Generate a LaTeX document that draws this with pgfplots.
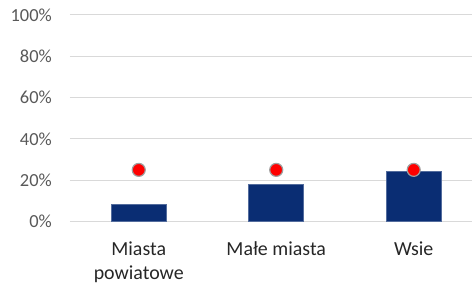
\documentclass[border=0pt]{standalone}
\usepackage{fontspec}
\setmainfont{Carlito}
\usepackage{pgfplots}
\pgfplotsset{compat=1.18}
\usetikzlibrary{calc}
\definecolor{barblue}{HTML}{0A2D73}
\definecolor{gridgray}{HTML}{D9D9D9}
\definecolor{labgray}{HTML}{595959}
\begin{document}
\begin{tikzpicture}
\begin{axis}[
  scale only axis, width=402bp, height=206.5bp,
  xmin=-0.5, xmax=2.424, ymin=0, ymax=100,
  axis x line*=bottom, axis y line*=left,
  x axis line style={gridgray, line width=1bp, -},
  y axis line style={draw=none},
  xtick={0,1,2},
  xticklabels={{Miasta\\powiatowe},{Małe miasta},{Wsie}},
  x tick style={draw=none},
  extra x ticks={-0.5,0.5,1.5},
  extra x tick labels={},
  extra x tick style={major tick length=7bp, tick align=outside, tick style={draw=gridgray, line width=1bp}, grid=none},
  ytick={0,20,40,60,80,100},
  yticklabels={0\%,20\%,40\%,60\%,80\%,100\%},
  y tick style={draw=none},
  ymajorgrids, grid style={gridgray, line width=1bp},
  yticklabel style={font=\fontsize{18.5}{22}\selectfont, color=labgray, inner sep=0pt, anchor=east, xshift=-18bp},
  xticklabel style={font=\fontsize{20}{24}\selectfont, color=black!85, align=center, anchor=north, inner sep=0pt, yshift=-20bp},
  clip=false,
]
\addplot[ybar, bar width=0.4, fill=barblue, draw=barblue!70!white, line width=0.6bp] coordinates {(0,8.4) (1,17.8) (2,24.4)};
\addplot[only marks, mark=*, mark size=6.5bp, mark options={fill=red, draw=gray!75, line width=1.2bp}] coordinates {(0,25) (1,25) (2,25)};
\end{axis}
\pgfresetboundingbox
\path[use as bounding box] ($(current axis.south west)+(-70bp,-63.5bp)$) rectangle ($(current axis.north east)+(0,15bp)$);
\end{tikzpicture}
\end{document}
